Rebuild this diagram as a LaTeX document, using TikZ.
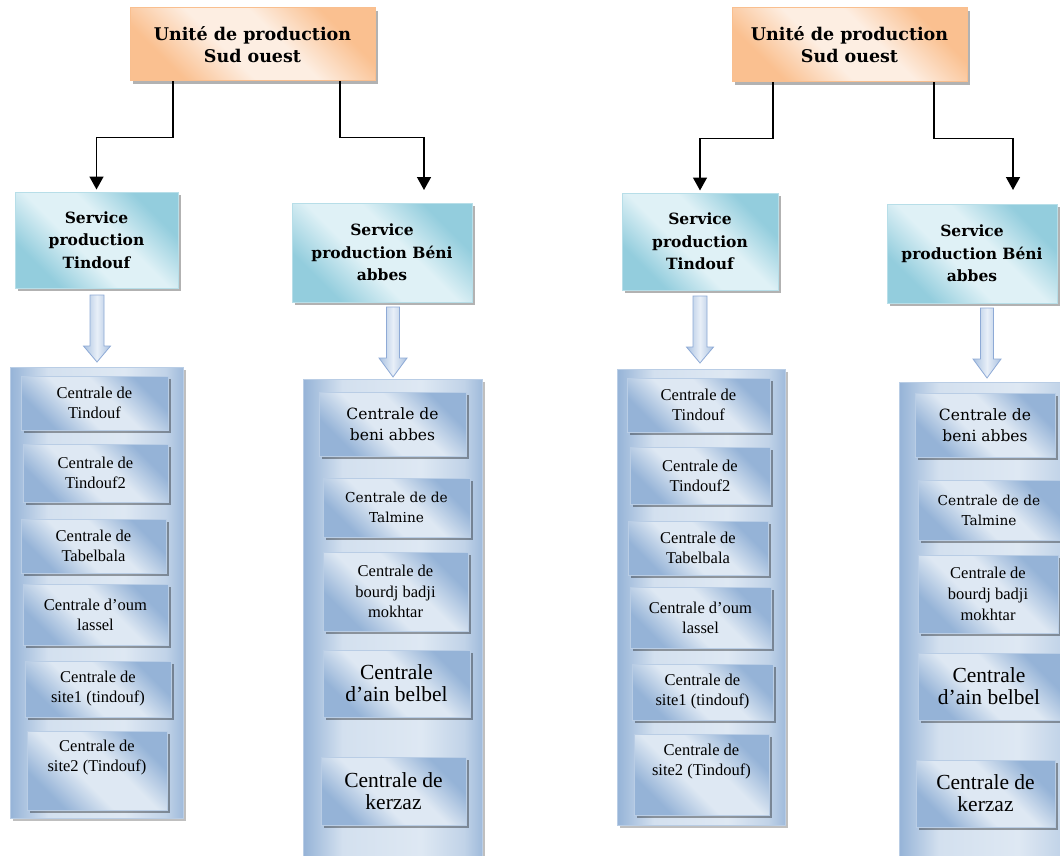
\documentclass[tikz,border=0pt]{standalone}
\usepackage{fontspec}
\setmainfont{Liberation Serif}
\newfontfamily\cambfont{DejaVu Serif}
\usetikzlibrary{shadows,arrows.meta}
\definecolor{orDark}{HTML}{FAC090}
\definecolor{orLight}{HTML}{FDEEE2}
\definecolor{orBorder}{HTML}{F9BF8F}
\definecolor{tlDark}{HTML}{93CDDD}
\definecolor{tlLight}{HTML}{DFF1F6}
\definecolor{tlBorder}{HTML}{B7DEE8}
\definecolor{blDark}{HTML}{95B3D7}
\definecolor{blLight}{HTML}{DEE8F3}
\definecolor{blBorder}{HTML}{B9CDE5}
\definecolor{arDark}{HTML}{A9C1E0}
\definecolor{arLight}{HTML}{E8EFF8}
\definecolor{arBorder}{HTML}{8EAAD6}
\pgfdeclareverticalshading{bandor}{100bp}{color(0bp)=(orDark); color(27bp)=(orDark); color(43bp)=(orLight); color(57bp)=(orLight); color(73bp)=(orDark); color(100bp)=(orDark)}
\pgfdeclareverticalshading{bandtl}{100bp}{color(0bp)=(tlDark); color(27bp)=(tlDark); color(43bp)=(tlLight); color(57bp)=(tlLight); color(73bp)=(tlDark); color(100bp)=(tlDark)}
\pgfdeclareverticalshading{bandbl}{100bp}{color(0bp)=(blDark); color(27bp)=(blDark); color(43bp)=(blLight); color(57bp)=(blLight); color(73bp)=(blDark); color(100bp)=(blDark)}
\pgfdeclarehorizontalshading{contbl}{100bp}{color(0bp)=(blDark); color(25bp)=(blDark); color(36bp)=(blLight!85!blDark); color(58bp)=(blLight); color(70bp)=(blLight!60!blDark); color(75bp)=(blDark!85!blLight); color(100bp)=(blDark!85!blLight)}
\begin{document}
\begin{tikzpicture}[x=1pt,y=-1pt,
 shd/.style={drop shadow={shadow xshift=3pt,shadow yshift=-3pt,fill=black,opacity=0.3}},
 unitbox/.style={shd, draw=orBorder, line width=1pt, shade, shading=bandor, shading angle=-45, align=center, inner sep=0pt, font=\cambfont\bfseries\fontsize{17.5}{22}\selectfont},
 servbox/.style={shd, draw=tlBorder, line width=1pt, shade, shading=bandtl, shading angle=-45, align=center, inner sep=0pt, font=\cambfont\bfseries\fontsize{15.5}{22.5}\selectfont},
 contbox/.style={drop shadow={shadow xshift=3pt,shadow yshift=-3pt,fill=black,opacity=0.25}, draw=blBorder, line width=1pt, shade, shading=contbl, inner sep=0pt},
 itembox/.style={drop shadow={shadow xshift=3pt,shadow yshift=-3pt,fill=black,opacity=0.35}, draw=blBorder, line width=0.8pt, shade, shading=bandbl, shading angle=-45, align=center, inner sep=0pt, font=\fontsize{16.5}{20}\selectfont},
 camitem/.style={itembox, font=\cambfont\fontsize{15.5}{21.5}\selectfont},
 camsmall/.style={itembox, font=\cambfont\fontsize{13.7}{20}\selectfont},
 tmsmall/.style={itembox, font=\fontsize{16.5}{20.8}\selectfont},
 tmbig/.style={itembox, font=\fontsize{21.5}{22}\selectfont},
 conn/.style={draw=black, line width=1.5pt, -{Triangle[width=14pt,length=13pt]}},
 blockarrow/.style={draw=arBorder, line width=0.8pt, left color=arDark, right color=arDark, middle color=arLight}
]
\useasboundingbox (0,0) rectangle (1060,856);
\fill[white] (0,0) rectangle (1060,856);
\clip (0,0) rectangle (1060,856);

% ================= LEFT DIAGRAM =================
\node[unitbox, minimum width=245pt, minimum height=73pt] (U1) at (252.5,44.5) {Unité de production\\Sud ouest};
\node[servbox, minimum width=163pt, minimum height=96pt] (S1) at (96.5,240) {Service\\production\\Tindouf};
\node[servbox, minimum width=180pt, minimum height=99pt] (S2) at (382,252.5) {Service\\production Béni\\abbes};
\coordinate (a2) at (424,190);
\draw[conn] ([xshift=-79.5pt]U1.south) -- ++(0,56) -| ([yshift=2pt]S1.north);
\draw[conn] ([xshift=87.5pt]U1.south) -- ++(0,56) -| (a2);

% block arrows
\path[blockarrow] (90,295) -- (104,295) -- (104,346) -- (110.5,346) -- (97,362) -- (83.5,346) -- (90,346) -- cycle;
\path[blockarrow] (386.5,307) -- (399.5,307) -- (399.5,358) -- (407,358) -- (393,377) -- (379,358) -- (386.5,358) -- cycle;

% containers
\node[contbox, minimum width=173pt, minimum height=451pt] (C1) at (96.5,592.5) {};
\node[contbox, minimum width=179pt, minimum height=481pt] (C2) at (392.5,619.5) {};

% Tindouf items
\node[itembox, minimum width=147pt, minimum height=54pt] (i1) at (94.5,403) {Centrale de\\Tindouf};
\node[itembox, minimum width=145pt, minimum height=58pt] (i2) at (95.5,473) {Centrale de\\Tindouf2};
\node[itembox, minimum width=145pt, minimum height=54pt] (i3) at (93.5,546) {Centrale de\\Tabelbala};
\node[itembox, minimum width=145pt, minimum height=61pt] (i4) at (95.5,614.5) {Centrale d’oum\\lassel};
\node[itembox, minimum width=146pt, minimum height=56pt] (i5) at (98,689) {Centrale de\\site1 (tindouf)};
\node[itembox, minimum width=140pt, minimum height=79pt] (i6) at (97,770.5) {Centrale de\\site2 (Tindouf)\\[10pt]};

% Beni items
\node[camitem, minimum width=147pt, minimum height=64pt] (j1) at (392.5,424) {Centrale de\\beni abbes};
\node[camsmall, minimum width=147pt, minimum height=59pt] (j2) at (396.5,507.5) {Centrale de de\\Talmine};
\node[tmsmall, minimum width=145pt, minimum height=79pt] (j3) at (395.5,591.5) {Centrale de\\bourdj badji\\mokhtar};
\node[tmbig, minimum width=147pt, minimum height=67pt] (j4) at (396.5,683.5) {Centrale\\d’ain belbel};
\node[tmbig, minimum width=145pt, minimum height=68pt] (j5) at (393.5,791) {Centrale de\\kerzaz};

% ================= RIGHT DIAGRAM =================
\node[unitbox, minimum width=235pt, minimum height=74pt] (U3) at (849.5,45) {Unité de production\\Sud ouest};
\node[servbox, minimum width=156pt, minimum height=97pt] (S3) at (700,241.5) {Service\\production\\Tindouf};
\node[servbox, minimum width=170pt, minimum height=99pt] (S4) at (972,253.5) {Service\\production Béni\\abbes};
\coordinate (a4) at (1013,190);
\draw[conn] ([xshift=-76.5pt]U3.south) -- ++(0,56) -| ([yshift=2pt]S3.north);
\draw[conn] ([xshift=84.5pt]U3.south) -- ++(0,56) -| (a4);

\path[blockarrow] (693,296) -- (707,296) -- (707,347) -- (713.5,347) -- (700,363) -- (686.5,347) -- (693,347) -- cycle;
\path[blockarrow] (980.5,308) -- (993.5,308) -- (993.5,359) -- (1001,359) -- (987,378) -- (973,359) -- (980.5,359) -- cycle;

\node[contbox, minimum width=168pt, minimum height=456pt] (C3) at (701,597) {};
\node[contbox, minimum width=181pt, minimum height=498pt] (C4) at (989.5,631) {};

\node[itembox, minimum width=143pt, minimum height=54pt] (k1) at (698.5,405) {Centrale de\\Tindouf};
\node[itembox, minimum width=140pt, minimum height=57pt] (k2) at (700,475.5) {Centrale de\\Tindouf2};
\node[itembox, minimum width=140pt, minimum height=54pt] (k3) at (698,548) {Centrale de\\Tabelbala};
\node[itembox, minimum width=141pt, minimum height=61pt] (k4) at (700.5,617.5) {Centrale d’oum\\lassel};
\node[itembox, minimum width=141pt, minimum height=56pt] (k5) at (702.5,692) {Centrale de\\site1 (tindouf)};
\node[itembox, minimum width=135pt, minimum height=81pt] (k6) at (701.5,774.5) {Centrale de\\site2 (Tindouf)\\[10pt]};

\node[camitem, minimum width=140pt, minimum height=64pt] (m1) at (985,425) {Centrale de\\beni abbes};
\node[camsmall, minimum width=142pt, minimum height=60pt] (m2) at (989,510) {Centrale de de\\Talmine};
\node[tmsmall, minimum width=140pt, minimum height=78pt] (m3) at (988,594) {Centrale de\\bourdj badji\\mokhtar};
\node[tmbig, minimum width=142pt, minimum height=67pt] (m4) at (989,686.5) {Centrale\\d’ain belbel};
\node[tmbig, minimum width=139pt, minimum height=67pt] (m5) at (985.5,793.5) {Centrale de\\kerzaz};
\end{tikzpicture}
\end{document}
